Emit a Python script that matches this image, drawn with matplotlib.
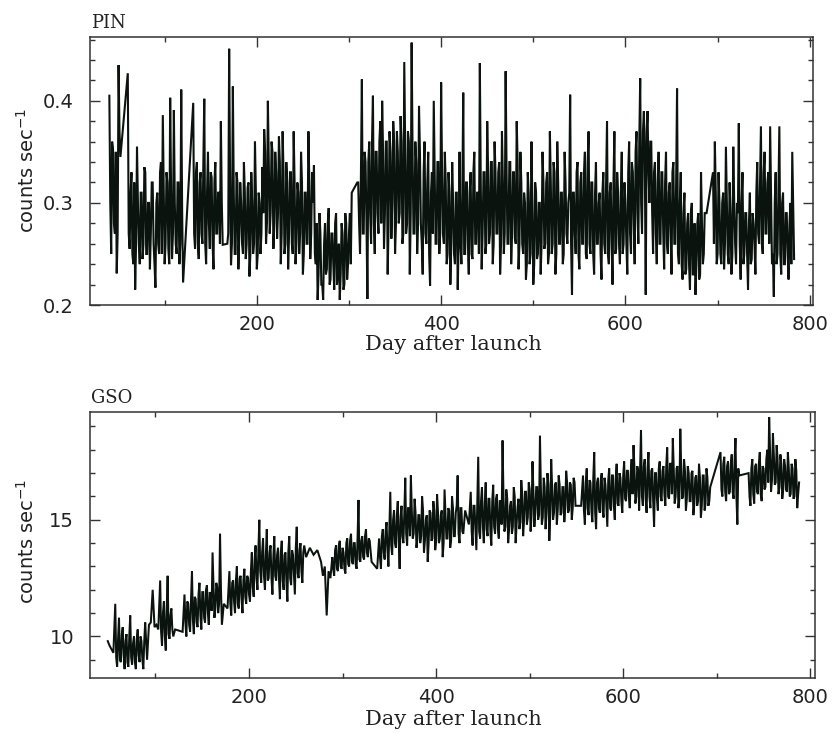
import matplotlib
matplotlib.use("Agg")
import matplotlib.pyplot as plt
from matplotlib.ticker import MultipleLocator

# ---------------- PIN data (day after launch, counts/sec) ----------------
pin_day = [
    40, 42, 44, 46, 48, 50, 52,
    60, 62, 64, 66, 68, 70, 72, 74, 76, 78,
    80, 82, 84, 86, 88, 90, 92, 94, 96, 98,
    100, 102, 104, 106, 108, 110, 112, 114, 116, 118, 120,
    131, 133, 135, 137, 139, 141, 143, 145, 147, 149,
    151, 153, 155, 157, 159, 161, 163,
    168, 170, 172, 174, 176, 178, 180, 182, 184, 186,
    188, 190, 192, 194, 196, 198, 200, 202, 204, 206,
    208, 210, 212, 214, 216, 218, 220, 222, 224, 226,
    228, 230, 232, 234, 236, 238, 240, 242, 244, 246,
    248, 250, 252, 254, 256, 258, 260, 262,
    264, 266, 268, 270, 272, 274, 276, 278, 280, 282,
    284, 286, 288, 290, 292, 294, 296, 298, 300, 302,
    303, 309,
    310, 312, 314, 316, 318, 320, 322, 324, 326, 328,
    330, 332, 334, 336, 338, 340, 342, 344, 346, 348,
    350, 352, 354, 356, 358, 360, 362, 364, 366, 368,
    370, 372, 374, 376, 378, 380, 382, 384, 386, 388,
    390, 392, 394, 396, 398, 400, 402, 404, 406, 408,
    410, 412, 414, 416, 418, 420,
    422, 424, 426, 428, 430, 432, 434, 436, 438, 440,
    442, 444, 446, 448, 450, 452, 454, 456, 458, 460,
    462, 464, 466, 468, 470, 472, 474, 476, 478, 480,
    482, 484, 486, 488, 490, 492, 494, 496, 498, 500,
    502, 504, 506, 508, 510, 512, 514, 516, 518, 520,
    522, 524, 526, 528, 530, 532, 534, 536, 538, 540,
    542, 544, 546, 548, 550, 552, 554, 556, 558, 560,
    562, 564, 566, 568, 570, 572, 574, 576, 578, 580,
    582, 584, 586, 588, 590, 592, 594, 596, 598, 600,
    602, 604, 606, 608, 610, 612, 614, 616, 618, 620,
    622, 624, 626, 628, 630, 632, 634, 636, 638, 640,
    642, 644, 646, 648, 650, 652, 654, 656, 658, 660,
    662, 664, 666, 668, 670, 672, 674, 676, 678, 680,
    682, 684, 686, 688,
    695, 697, 699, 701, 703, 705, 707, 709, 711, 713,
    715, 717, 719, 721, 723, 725, 727, 729, 731, 733,
    735, 737, 739, 741, 743, 745, 747, 749, 751, 753,
    755, 757, 759, 761, 763, 765, 767, 769, 771, 773,
    775, 777, 779, 781, 783,
]
pin_rate = [
    0.405, 0.250, 0.352, 0.270, 0.231, 0.435, 0.345,
    0.427, 0.255, 0.330, 0.240, 0.215, 0.355, 0.260, 0.310, 0.245, 0.335,
    0.250, 0.300, 0.235, 0.320, 0.260, 0.217, 0.310, 0.250, 0.340, 0.386,
    0.240, 0.330, 0.255, 0.403, 0.245, 0.391, 0.260, 0.320, 0.240, 0.411, 0.222,
    0.398, 0.255, 0.340, 0.245, 0.330, 0.260, 0.402, 0.240, 0.350, 0.255,
    0.325, 0.235, 0.340, 0.270, 0.310, 0.380, 0.259,
    0.260, 0.451, 0.239, 0.414, 0.250, 0.330, 0.235, 0.320, 0.260, 0.340,
    0.245, 0.315, 0.228, 0.330, 0.250, 0.360, 0.235, 0.310, 0.250, 0.335,
    0.372, 0.260, 0.400, 0.270, 0.360, 0.255, 0.350, 0.265, 0.365, 0.240,
    0.370, 0.250, 0.340, 0.235, 0.330, 0.260, 0.370, 0.240, 0.320, 0.250,
    0.350, 0.230, 0.310, 0.260, 0.370, 0.245, 0.330, 0.337,
    0.240, 0.205, 0.290, 0.220, 0.205, 0.280, 0.235, 0.295, 0.225, 0.270,
    0.215, 0.290, 0.230, 0.205, 0.280, 0.215, 0.290, 0.225, 0.270, 0.240,
    0.310, 0.320,
    0.320, 0.250, 0.421, 0.270, 0.340, 0.206, 0.360, 0.260, 0.405, 0.250,
    0.350, 0.270, 0.380, 0.400, 0.255, 0.360, 0.230, 0.370, 0.265, 0.380,
    0.250, 0.370, 0.280, 0.385, 0.260, 0.438, 0.270, 0.370, 0.230, 0.457,
    0.270, 0.360, 0.250, 0.395, 0.280, 0.230, 0.360, 0.260, 0.350, 0.219,
    0.330, 0.400, 0.260, 0.340, 0.250, 0.418, 0.270, 0.350, 0.240, 0.330,
    0.220, 0.340, 0.250, 0.310, 0.215, 0.350,
    0.240, 0.408, 0.250, 0.320, 0.230, 0.330, 0.245, 0.350, 0.260, 0.310,
    0.437, 0.235, 0.330, 0.250, 0.380, 0.260, 0.340, 0.240, 0.360, 0.270,
    0.330, 0.230, 0.370, 0.250, 0.429, 0.260, 0.340, 0.240, 0.330, 0.265,
    0.380, 0.235, 0.350, 0.260, 0.310, 0.225, 0.330, 0.240, 0.360, 0.220,
    0.320, 0.245, 0.300, 0.230, 0.350, 0.255, 0.320, 0.240, 0.370, 0.250,
    0.340, 0.230, 0.360, 0.260, 0.310, 0.240, 0.350, 0.270, 0.300, 0.406,
    0.210, 0.310, 0.250, 0.340, 0.235, 0.330, 0.260, 0.350, 0.245, 0.370,
    0.250, 0.320, 0.230, 0.340, 0.260, 0.310, 0.225, 0.330, 0.250, 0.380,
    0.240, 0.320, 0.220, 0.370, 0.255, 0.310, 0.240, 0.350, 0.260, 0.300,
    0.230, 0.360, 0.250, 0.330, 0.240, 0.370, 0.260, 0.422, 0.270, 0.390,
    0.210, 0.390, 0.300, 0.360, 0.250, 0.340, 0.240, 0.350, 0.260, 0.330,
    0.235, 0.350, 0.250, 0.320, 0.230, 0.340, 0.260, 0.412, 0.240, 0.330,
    0.225, 0.310, 0.235, 0.290, 0.215, 0.300, 0.230, 0.210, 0.280, 0.225,
    0.330, 0.240, 0.290, 0.290,
    0.330, 0.360, 0.240, 0.330, 0.250, 0.300, 0.235, 0.355, 0.250, 0.320,
    0.230, 0.355, 0.260, 0.300, 0.378, 0.225, 0.330, 0.250, 0.290, 0.215,
    0.310, 0.245, 0.280, 0.230, 0.340, 0.260, 0.375, 0.250, 0.350, 0.270,
    0.330, 0.375, 0.240, 0.208, 0.330, 0.250, 0.375, 0.230, 0.310, 0.240,
    0.290, 0.225, 0.300, 0.350, 0.245,
]
# intermediate PIN readings (day, counts/sec) between the ones above
pin_extra = [
    (41, 0.30), (43, 0.36), (45, 0.28), (47, 0.35), (49, 0.27), (51, 0.37),
    (61, 0.27), (63, 0.31), (65, 0.25), (67, 0.32), (69, 0.26), (71, 0.30),
    (73, 0.24), (75, 0.31), (77, 0.26), (79, 0.33), (81, 0.25), (83, 0.30),
    (85, 0.27), (87, 0.32), (89, 0.24), (91, 0.30), (93, 0.26), (95, 0.33),
    (97, 0.25), (99, 0.31), (101, 0.26), (103, 0.32), (105, 0.24), (107, 0.31),
    (109, 0.27), (111, 0.30), (113, 0.25), (115, 0.32), (117, 0.26), (119, 0.29),
    (132, 0.27), (134, 0.33), (136, 0.26), (138, 0.32), (140, 0.27), (142, 0.34),
    (144, 0.26), (146, 0.31), (148, 0.28), (150, 0.33), (152, 0.26), (154, 0.32),
    (156, 0.27), (158, 0.31), (160, 0.26), (162, 0.30),
    (169, 0.27), (171, 0.32), (173, 0.26), (175, 0.31), (177, 0.25), (179, 0.32),
    (181, 0.27), (183, 0.30), (185, 0.25), (187, 0.31), (189, 0.26), (191, 0.32),
    (193, 0.25), (195, 0.30), (197, 0.26), (199, 0.31), (201, 0.25), (203, 0.30),
    (205, 0.27),
    (207, 0.29), (209, 0.35), (211, 0.28), (213, 0.34), (215, 0.29), (217, 0.35),
    (219, 0.28), (221, 0.33), (223, 0.29), (225, 0.34), (227, 0.27), (229, 0.33),
    (231, 0.26), (233, 0.32), (235, 0.27), (237, 0.33), (239, 0.25), (241, 0.32),
    (243, 0.26), (245, 0.31), (247, 0.27), (249, 0.32), (251, 0.25), (253, 0.31),
    (255, 0.26), (257, 0.32), (259, 0.27), (261, 0.30),
    (263, 0.25), (265, 0.28), (267, 0.23), (269, 0.27), (271, 0.22), (273, 0.26),
    (275, 0.23), (277, 0.28), (279, 0.22), (281, 0.27), (283, 0.24), (285, 0.28),
    (287, 0.22), (289, 0.26), (291, 0.23), (293, 0.27), (295, 0.22), (297, 0.28),
    (299, 0.24), (301, 0.29),
    (311, 0.28), (313, 0.33), (315, 0.27), (317, 0.35), (319, 0.28), (321, 0.34),
    (323, 0.29), (325, 0.36), (327, 0.28), (329, 0.35), (331, 0.29), (333, 0.36),
    (335, 0.28), (337, 0.35), (339, 0.29), (341, 0.36), (343, 0.28), (345, 0.35),
    (347, 0.30), (349, 0.36), (351, 0.28), (353, 0.35), (355, 0.29), (357, 0.36),
    (359, 0.27), (361, 0.35), (363, 0.28), (365, 0.36), (367, 0.29), (369, 0.35),
    (371, 0.27), (373, 0.34), (375, 0.28), (377, 0.35), (379, 0.26), (381, 0.33),
    (383, 0.27), (385, 0.32), (387, 0.25), (389, 0.31), (391, 0.27), (393, 0.33),
    (395, 0.26), (397, 0.34), (399, 0.27), (401, 0.33), (403, 0.26), (405, 0.32),
    (407, 0.25), (409, 0.31), (411, 0.26), (413, 0.30), (415, 0.24), (417, 0.31),
    (419, 0.26),
    (421, 0.26), (423, 0.31), (425, 0.25), (427, 0.32), (429, 0.26), (431, 0.31),
    (433, 0.25), (435, 0.33), (437, 0.26), (439, 0.31), (441, 0.25), (443, 0.32),
    (445, 0.27), (447, 0.33), (449, 0.26),
    (451, 0.33), (453, 0.27), (455, 0.34), (457, 0.26), (459, 0.33), (461, 0.27),
    (463, 0.34), (465, 0.26), (467, 0.32), (469, 0.27), (471, 0.33), (473, 0.26),
    (475, 0.34), (477, 0.27), (479, 0.33), (481, 0.26), (483, 0.34), (485, 0.26),
    (487, 0.32),
    (489, 0.25), (491, 0.30), (493, 0.24), (495, 0.31), (497, 0.25), (499, 0.30),
    (501, 0.24), (503, 0.31), (505, 0.25), (507, 0.30), (509, 0.26),
    (511, 0.32), (513, 0.26), (515, 0.33), (517, 0.25), (519, 0.32), (521, 0.26),
    (523, 0.33), (525, 0.25), (527, 0.32), (529, 0.26), (531, 0.31), (533, 0.25),
    (535, 0.32), (537, 0.26), (539, 0.31),
    (541, 0.26), (543, 0.31), (545, 0.27), (547, 0.33), (549, 0.25), (551, 0.32),
    (553, 0.26), (555, 0.33), (557, 0.25), (559, 0.34), (561, 0.26), (563, 0.32),
    (565, 0.25), (567, 0.31), (569, 0.26), (571, 0.30), (573, 0.25), (575, 0.31),
    (577, 0.26), (579, 0.32), (581, 0.25), (583, 0.31), (585, 0.26), (587, 0.32),
    (589, 0.25), (591, 0.33), (593, 0.26), (595, 0.31), (597, 0.25), (599, 0.32),
    (601, 0.26), (603, 0.33), (605, 0.27), (607, 0.34), (609, 0.28), (611, 0.35),
    (613, 0.29), (615, 0.36), (617, 0.30), (619, 0.37),
    (621, 0.34), (623, 0.37), (625, 0.33), (627, 0.36), (629, 0.29), (631, 0.33),
    (633, 0.27), (635, 0.32), (637, 0.26), (639, 0.33), (641, 0.27), (643, 0.32),
    (645, 0.26), (647, 0.31), (649, 0.27), (651, 0.33), (653, 0.26), (655, 0.32),
    (657, 0.25), (659, 0.30), (661, 0.24), (663, 0.29), (665, 0.23), (667, 0.28),
    (669, 0.24), (671, 0.29), (673, 0.23), (675, 0.28), (677, 0.24), (679, 0.29),
    (681, 0.23), (683, 0.28), (685, 0.25), (687, 0.29),
    (696, 0.26), (698, 0.31), (700, 0.25), (702, 0.30), (704, 0.24), (706, 0.31),
    (708, 0.26), (710, 0.30), (712, 0.24), (714, 0.29), (716, 0.25), (718, 0.30),
    (720, 0.24), (722, 0.29), (724, 0.26), (726, 0.30), (728, 0.24), (730, 0.29),
    (732, 0.25), (734, 0.28), (736, 0.24), (738, 0.29), (740, 0.26), (742, 0.31),
    (744, 0.27), (746, 0.32), (748, 0.26), (750, 0.33), (752, 0.27), (754, 0.32),
    (756, 0.26), (758, 0.31), (760, 0.25), (762, 0.30), (764, 0.24), (766, 0.31),
    (768, 0.25), (770, 0.30), (772, 0.24), (774, 0.29), (776, 0.25), (778, 0.28),
    (780, 0.24), (782, 0.30),
]

# ---------------- GSO data (day after launch, counts/sec) ----------------
gso_day = [
    49, 51, 53, 55, 57, 59, 61, 63, 65, 67,
    69, 71, 73, 75, 77, 79, 81, 83, 85, 87,
    89, 91, 93, 95, 97, 99, 101, 103,
    105, 107, 109, 111, 113, 115, 117, 119, 121, 129,
    131, 133, 135, 137, 139, 141, 143, 145, 147, 149,
    151, 153, 155, 157, 159, 161, 163, 165, 167, 169,
    171, 173, 177,
    179, 181, 183, 185, 187, 189, 191, 193, 195, 197,
    199, 201, 203, 205, 207, 209, 211, 213, 215, 217,
    219, 221, 223, 225, 227, 229,
    231, 233, 235, 237, 239, 241, 243, 245, 247, 249,
    251, 253, 255, 257, 259, 261, 265, 269, 273, 277,
    279, 281, 283, 285, 287,
    289, 291, 293, 295, 297, 299, 301, 303, 305, 307,
    309, 311, 313, 315, 317, 319, 321, 323, 325, 327,
    329, 331, 337,
    339, 341, 343, 345, 347, 349, 351, 353, 355, 357,
    359, 361, 363, 365, 367, 369, 371, 373, 375, 377,
    379, 381, 383, 385, 387, 389, 391, 393, 395, 397,
    399, 401, 403, 405, 407, 409, 411, 413, 415, 417,
    419, 421, 423, 425, 427, 429, 431, 435,
    437, 439, 441, 443, 445, 447, 449, 451, 453, 455,
    457, 459, 461, 463, 465, 467, 469, 471, 473, 475,
    477, 479, 481, 483, 485, 487, 489, 491, 493, 495,
    497, 499, 501, 503, 505, 507, 509, 511, 513, 515,
    517, 519, 521, 523, 525, 527, 529, 531, 533, 535,
    537, 539, 541, 543, 545, 547, 549, 555,
    557, 559, 561, 563, 565, 567, 569, 571, 573, 575,
    577, 579, 581, 583, 585, 587, 589, 591, 593, 595,
    597, 599, 601, 603, 605, 607, 609, 611, 613, 615,
    617,
    619, 621, 623, 625, 627, 629, 631, 633, 635, 637,
    639, 641, 643, 645, 647, 649, 651, 653, 655, 657,
    659, 661, 663, 665, 667, 669, 671, 673, 675, 677,
    679, 681, 683, 685, 687, 689, 691, 693,
    704, 706, 708, 710, 712, 714, 716, 718, 720, 722,
    724, 734,
    736, 738, 740, 742, 744, 746, 748, 750, 752, 754,
    756, 758, 760, 762, 764, 766, 768, 770, 772, 774,
    776, 778, 780, 782, 784, 786, 788,
]
gso_rate = [
    9.8, 9.6, 9.45, 9.3, 11.4, 8.7, 10.8, 8.9, 10.4, 8.6,
    10.1, 8.7, 10.9, 8.8, 10.0, 8.6, 10.3, 8.9, 9.8, 8.6,
    10.6, 9.0, 10.5, 10.6, 12.0, 10.4, 10.5, 10.3,
    12.4, 9.6, 11.5, 9.4, 12.6, 9.9, 11.2, 10.0, 10.3, 10.2,
    11.8, 10.0, 11.4, 10.2, 12.8, 10.1, 11.6, 10.4, 12.3, 10.3,
    11.9, 10.6, 12.2, 10.5, 11.8, 13.6, 10.8, 12.3, 11.0, 14.4,
    10.5, 11.4, 11.2,
    12.8, 10.9, 12.4, 11.0, 13.0, 11.2, 12.6, 11.0, 12.9, 11.4,
    12.5, 11.5, 13.6, 11.7, 13.9, 12.0, 15.0, 12.3, 14.2, 12.0,
    14.6, 12.5, 13.9, 11.8, 14.3, 12.4,
    13.8, 11.6, 14.1, 12.0, 13.6, 11.5, 14.3, 12.2, 13.5, 11.8,
    14.7, 12.5, 14.0, 12.3, 13.9, 13.4, 13.8, 13.5, 13.7, 13.2,
    12.6, 13.0, 10.9, 12.8, 12.5,
    13.4, 12.6, 13.9, 12.8, 14.1, 12.9, 13.6, 12.7, 14.2, 13.0,
    14.4, 13.1, 14.0, 12.9, 15.85, 13.2, 14.3, 13.3, 14.6, 13.4,
    14.1, 13.2, 12.9,
    14.2, 12.9, 14.6, 13.3, 14.9, 13.0, 16.2, 13.5, 15.4, 13.8,
    15.8, 12.9, 15.6, 14.0, 16.8, 13.9, 15.5, 16.9, 14.2, 15.9,
    13.8, 15.2, 14.0, 16.0, 13.6, 15.0, 13.2, 15.4, 14.1, 15.8,
    13.7, 16.1, 14.0, 15.2, 13.4, 16.3, 14.2, 15.5, 13.8, 16.0,
    14.3, 15.3, 16.9, 14.0, 15.5, 14.4, 15.4, 14.8,
    16.2, 13.9, 15.6, 13.7, 17.7, 14.2, 16.4, 14.0, 16.6, 14.3,
    15.9, 13.9, 16.5, 14.4, 16.1, 14.2, 15.8, 18.4, 14.5, 16.3,
    14.0, 15.6, 14.4, 16.4, 14.0, 15.5, 14.6, 16.7, 14.3, 16.2,
    14.8, 16.6, 14.5, 17.5, 14.7, 16.4, 15.0, 18.6, 14.8, 16.8,
    14.6, 17.0, 14.1, 17.6, 15.0, 16.5, 14.8, 16.9, 15.2, 16.4,
    14.9, 17.1, 15.3, 16.6, 15.0, 16.8, 15.6, 15.6,
    16.9, 14.8, 17.2, 15.2, 16.6, 14.9, 17.9, 14.6, 16.8, 15.3,
    17.0, 15.1, 16.5, 14.7, 17.2, 15.4, 16.9, 15.0, 17.4, 15.6,
    16.8, 15.3, 17.5, 15.8, 17.1, 15.5, 17.6, 18.2, 15.7, 17.3,
    15.4,
    18.85, 15.6, 17.6, 15.3, 17.9, 15.5, 17.2, 14.7, 17.0, 15.4,
    17.5, 15.8, 17.3, 15.6, 18.1, 15.9, 17.4, 18.5, 15.7, 17.2,
    15.5, 18.9, 15.9, 17.6, 15.4, 17.3, 15.8, 17.0, 15.2, 16.8,
    15.6, 17.4, 15.1, 16.9, 15.4, 17.2, 15.6, 16.4,
    17.9, 16.0, 17.7, 15.8, 17.5, 16.2, 17.8, 15.9, 18.5, 14.8,
    16.9, 17.0,
    15.6, 17.6, 15.7, 17.4, 16.1, 17.9, 15.8, 17.2, 16.4, 18.0,
    19.4, 16.2, 18.7, 16.5, 18.2, 16.1, 17.8, 15.9, 17.6, 16.3,
    17.9, 16.0, 17.4, 15.9, 17.6, 15.5, 16.6,
]
# intermediate GSO readings (day, counts/sec) between the ones above
gso_extra = [
    (58, 9.1), (60, 9.9), (62, 9.0), (64, 10.1), (66, 9.2), (68, 9.8),
    (70, 8.9), (72, 10.0), (74, 9.1), (76, 9.7), (78, 8.9), (80, 9.9),
    (82, 9.2), (84, 10.0), (86, 9.0), (88, 9.8),
    (106, 10.2), (108, 11.0), (110, 10.0), (112, 11.2), (114, 10.1), (116, 10.9),
    (118, 10.3),
    (132, 10.6), (134, 11.5), (136, 10.5), (138, 11.6), (140, 10.7), (142, 11.7),
    (144, 10.6), (146, 11.8), (148, 10.9), (150, 11.9), (152, 10.8), (154, 12.0),
    (156, 11.0), (158, 11.9), (160, 11.1), (162, 12.2), (164, 11.2), (166, 12.1),
    (168, 11.4), (170, 12.0),
    (180, 11.4), (182, 12.3), (184, 11.5), (186, 12.4), (188, 11.4), (190, 12.5),
    (192, 11.6), (194, 12.4), (196, 11.7), (198, 12.6), (200, 11.8), (202, 12.8),
    (204, 12.1), (206, 13.3), (208, 12.5), (210, 13.7), (212, 12.8), (214, 13.6),
    (216, 12.6), (218, 13.5), (220, 12.4), (222, 13.6), (224, 12.5), (226, 13.4),
    (228, 12.6),
    (230, 13.5), (232, 12.5), (234, 13.6), (236, 12.4), (238, 13.5), (240, 12.3),
    (242, 13.6), (244, 12.5), (246, 13.7), (248, 12.6), (250, 13.8), (252, 12.7),
    (254, 13.7), (256, 12.8), (258, 13.6),
    (290, 12.9), (292, 13.7), (294, 12.9), (296, 13.9), (298, 13.0), (300, 13.8),
    (302, 12.9), (304, 14.0), (306, 13.1), (308, 14.1), (310, 13.2), (312, 14.0),
    (314, 13.1), (316, 14.2), (318, 13.3), (320, 14.1), (322, 13.4), (324, 14.3),
    (326, 13.6), (328, 14.2),
    (340, 13.4), (342, 14.3), (344, 13.6), (346, 14.5), (348, 13.7), (350, 14.7),
    (352, 13.9), (354, 15.0), (356, 14.0), (358, 15.2), (360, 14.1), (362, 15.1),
    (364, 14.3), (366, 15.3), (368, 14.4), (370, 15.5), (372, 14.3), (374, 15.4),
    (376, 14.4), (378, 15.3), (380, 14.2), (382, 15.2), (384, 14.3), (386, 15.4),
    (388, 14.1), (390, 15.2), (392, 14.0), (394, 15.3), (396, 14.2), (398, 15.4),
    (400, 14.1), (402, 15.3), (404, 14.2), (406, 15.4), (408, 14.0), (410, 15.3),
    (412, 14.2), (414, 15.4), (416, 14.1), (418, 15.5), (420, 14.3), (422, 15.6),
    (424, 14.4), (426, 15.5), (428, 14.5),
    (438, 14.5), (440, 15.6), (442, 14.6), (444, 15.7), (446, 14.5), (448, 15.8),
    (450, 14.7), (452, 15.7), (454, 14.6), (456, 15.9), (458, 14.5), (460, 15.8),
    (462, 14.7), (464, 15.9), (466, 14.6), (468, 15.8), (470, 14.8), (472, 16.0),
    (474, 14.7), (476, 15.9), (478, 14.6), (480, 15.8), (482, 14.7), (484, 16.0),
    (486, 14.8), (488, 15.9), (490, 14.9), (492, 16.1), (494, 15.0), (496, 16.2),
    (498, 15.1), (500, 16.3), (502, 15.2), (504, 16.2), (506, 15.3), (508, 16.4),
    (510, 15.2), (512, 16.3), (514, 15.1), (516, 16.4), (518, 15.3), (520, 16.5),
    (522, 15.2), (524, 16.4), (526, 15.3), (528, 16.6), (530, 15.4), (532, 16.5),
    (534, 15.3), (536, 16.4), (538, 15.5), (540, 16.6), (542, 15.4), (544, 16.5),
    (546, 15.5), (548, 16.6),
    (558, 15.4), (560, 16.6), (562, 15.5), (564, 16.7), (566, 15.4), (568, 16.8),
    (570, 15.3), (572, 16.6), (574, 15.5), (576, 16.7), (578, 15.4), (580, 16.8),
    (582, 15.6), (584, 16.7), (586, 15.5), (588, 16.9), (590, 15.6), (592, 16.8),
    (594, 15.7), (596, 17.0), (598, 15.8), (600, 16.9), (602, 15.9), (604, 17.1),
    (606, 16.0), (608, 17.0), (610, 16.1), (612, 17.2), (614, 16.0), (616, 17.1),
    (620, 16.0), (622, 17.3), (624, 15.9), (626, 17.2), (628, 16.0), (630, 17.1),
    (632, 15.8), (634, 17.0), (636, 15.9), (638, 17.2), (640, 16.0), (642, 17.1),
    (644, 16.1), (646, 17.3), (648, 16.0), (650, 17.4), (652, 16.1), (654, 17.2),
    (656, 16.0), (658, 17.3), (660, 15.9), (662, 17.2), (664, 16.0), (666, 17.1),
    (668, 15.9), (670, 17.0), (672, 15.8), (674, 17.1), (676, 15.7), (678, 16.9),
    (680, 15.8), (682, 16.8), (684, 15.6), (686, 16.9), (688, 15.7), (690, 16.8),
    (692, 15.8),
    (705, 16.3), (707, 17.4), (709, 16.2), (711, 17.3), (713, 16.1), (715, 17.4),
    (717, 16.2), (719, 17.5), (721, 16.0), (723, 17.2),
    (735, 16.0), (737, 17.2), (739, 16.1), (741, 17.3), (743, 16.2), (745, 17.4),
    (747, 16.1), (749, 17.3), (751, 16.3), (753, 17.6), (755, 16.6), (757, 17.9),
    (759, 16.7), (761, 17.8), (763, 16.6), (765, 17.6), (767, 16.4), (769, 17.4),
    (771, 16.3), (773, 17.3), (775, 16.2), (777, 17.2), (779, 16.1), (781, 17.2),
    (783, 16.0), (785, 17.1), (787, 16.1),
]

pin_yticks = [0.2, 0.3, 0.4]
gso_yticks = [10, 15]
x_ticks = [200, 400, 600, 800]


def merged(days, rates, extra):
    pts = sorted(list(zip(days, rates)) + list(extra))
    return [p[0] for p in pts], [p[1] for p in pts]


pin_x, pin_y = merged(pin_day, pin_rate, pin_extra)
gso_x, gso_y = merged(gso_day, gso_rate, gso_extra)

W, H = 832, 733
fig = plt.figure(figsize=(W / 100, H / 100), dpi=100)
fig.patch.set_facecolor("white")

line_color = "#0a130d"
sans = "DejaVu Sans"
serif = "DejaVu Serif"
txt = "#222222"


def px_axes(l, t, r, b):
    return fig.add_axes([l / W, 1 - b / H, (r - l) / W, (b - t) / H])


def style(ax, ymaj, ymin):
    ax.xaxis.set_major_locator(MultipleLocator(200))
    ax.xaxis.set_minor_locator(MultipleLocator(100))
    ax.yaxis.set_major_locator(MultipleLocator(ymaj))
    ax.yaxis.set_minor_locator(MultipleLocator(ymin))
    ax.tick_params(which="both", direction="in", top=True, right=True,
                   colors="#333333", labelcolor=txt)
    ax.tick_params(which="major", length=7, width=1.0)
    ax.tick_params(which="minor", length=3.5, width=1.0)
    ax.tick_params(axis="x", pad=7.5, labelsize=14)
    ax.tick_params(axis="y", pad=11.5, labelsize=14)
    for s in ax.spines.values():
        s.set_color("#333333")
        s.set_linewidth(1.1)


# ---- top panel: PIN ----
ax1 = px_axes(90, 37, 813, 305)
ax1.plot(pin_x, pin_y, color=line_color, lw=1.5, solid_joinstyle="miter")
ax1.set_xlim(19, 803.5)
ax1.set_ylim(0.2, 0.4625)
style(ax1, 0.1, 0.02)
ax1.set_yticks(pin_yticks)
ax1.set_xticks(x_ticks)
ax1.set_yticklabels([f"{v:.1f}" for v in pin_yticks], family=sans)
ax1.set_xticklabels([str(v) for v in x_ticks], family=sans)

# ---- bottom panel: GSO ----
ax2 = px_axes(90, 412, 815, 678)
ax2.plot(gso_x, gso_y, color=line_color, lw=1.45, solid_joinstyle="miter")
ax2.set_xlim(30, 805)
ax2.set_ylim(8.22, 19.62)
style(ax2, 5, 1)
ax2.set_yticks(gso_yticks)
ax2.set_xticks(x_ticks)
ax2.set_yticklabels([str(v) for v in gso_yticks], family=sans)
ax2.set_xticklabels([str(v) for v in x_ticks], family=sans)

# ---- texts ----
fig.text(91 / W, 1 - 28 / H, "PIN", family=serif, fontsize=13,
         ha="left", va="baseline", color=txt)
fig.text(91 / W, 1 - 403 / H, "GSO", family=serif, fontsize=13,
         ha="left", va="baseline", color=txt)
fig.text(453 / W, 1 - 350 / H, "Day after launch", family=serif, fontsize=15,
         ha="center", va="baseline", color=txt)
fig.text(453 / W, 1 - 725 / H, "Day after launch", family=serif, fontsize=15,
         ha="center", va="baseline", color=txt)
fig.text(27 / W, 1 - 170 / H, "counts sec$^{-1}$", family=sans, fontsize=14,
         rotation=90, ha="center", va="center", color=txt)
fig.text(27 / W, 1 - 541 / H, "counts sec$^{-1}$", family=sans, fontsize=14,
         rotation=90, ha="center", va="center", color=txt)

fig.savefig("out.png", dpi=100, facecolor="white")
